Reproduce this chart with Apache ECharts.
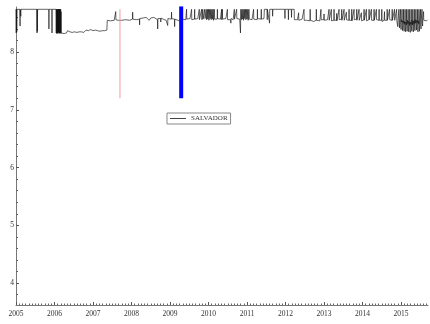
<!DOCTYPE html>
<html>
<head>
<meta charset="utf-8">
<script src="https://cdn.jsdelivr.net/npm/echarts@6/dist/echarts.min.js"></script>
<style>
html,body{margin:0;padding:0;background:#fff;}
#chart{width:430px;height:324px;}
</style>
</head>
<body>
<div id="chart"></div>
<script>
// ---- data (decimal year, level) ----
var seg2005 = [[2005.00,8.74],[2005.005,8.33],[2005.01,8.74],[2005.02,8.35],[2005.03,8.74],[2005.10,8.74],[2005.105,8.45],[2005.11,8.74],[2005.125,8.62],[2005.13,8.74],[2005.54,8.74],[2005.545,8.33],[2005.55,8.74],[2005.555,8.36],[2005.56,8.74],[2005.85,8.74],[2005.855,8.40],[2005.86,8.74],[2005.93,8.74],[2005.935,8.33],[2005.94,8.74],[2006.04,8.74],[2006.045,8.33],[2006.05,8.74],[2006.055,8.32],[2006.06,8.74],[2006.065,8.34],[2006.07,8.74],[2006.075,8.33],[2006.08,8.74],[2006.085,8.32],[2006.09,8.74],[2006.095,8.35],[2006.10,8.74],[2006.105,8.33],[2006.11,8.74],[2006.115,8.34],[2006.12,8.74],[2006.125,8.32],[2006.13,8.74],[2006.135,8.33],[2006.14,8.74],[2006.145,8.36],[2006.15,8.74],[2006.155,8.33],[2006.16,8.74],[2006.165,8.32],[2006.17,8.70],[2006.175,8.33],[2006.18,8.34]];
var seg2006 = [[2006.19,8.33],[2006.22,8.35],[2006.25,8.32],[2006.28,8.34],[2006.31,8.33],[2006.34,8.37],[2006.37,8.34],[2006.40,8.35],[2006.43,8.38],[2006.46,8.34],[2006.49,8.36],[2006.52,8.35],[2006.55,8.37],[2006.58,8.34],[2006.61,8.36],[2006.64,8.35],[2006.67,8.38],[2006.70,8.35],[2006.73,8.37],[2006.76,8.34],[2006.79,8.36],[2006.82,8.38],[2006.85,8.35],[2006.88,8.37],[2006.91,8.36],[2006.94,8.39],[2006.97,8.36],[2007.00,8.37],[2007.03,8.35],[2007.06,8.38],[2007.09,8.36],[2007.12,8.37],[2007.15,8.39],[2007.18,8.36],[2007.21,8.38],[2007.24,8.37],[2007.27,8.39],[2007.30,8.37],[2007.33,8.38],[2007.36,8.38]];
var seg2007 = [[2007.37,8.55],[2007.40,8.56],[2007.45,8.54],[2007.50,8.56],[2007.55,8.55],[2007.585,8.56],[2007.59,8.70],[2007.595,8.56],[2007.65,8.55],[2007.70,8.57],[2007.75,8.55],[2007.80,8.57],[2007.85,8.56],[2007.90,8.58],[2007.95,8.55],[2008.00,8.57],[2008.025,8.57],[2008.03,8.69],[2008.035,8.57],[2008.08,8.58],[2008.12,8.56],[2008.16,8.59],[2008.205,8.57],[2008.21,8.47],[2008.215,8.58],[2008.26,8.56],[2008.30,8.59],[2008.34,8.57],[2008.38,8.60],[2008.42,8.58],[2008.46,8.55],[2008.50,8.59],[2008.54,8.57],[2008.58,8.60],[2008.62,8.58],[2008.675,8.56],[2008.68,8.40],[2008.685,8.58],[2008.72,8.60],[2008.755,8.58],[2008.76,8.52],[2008.765,8.59],[2008.82,8.57],[2008.86,8.60],[2008.90,8.55],[2008.935,8.57],[2008.94,8.46],[2008.945,8.58],[2008.98,8.60],[2009.035,8.57],[2009.04,8.69],[2009.045,8.58],[2009.08,8.56],[2009.115,8.57],[2009.12,8.44],[2009.125,8.57],[2009.17,8.59],[2009.21,8.55],[2009.25,8.58],[2009.29,8.52],[2009.33,8.57]];
var seg2009 = [[2009.37,8.58],[2009.41,8.56],[2009.425,8.57],[2009.43,8.74],[2009.435,8.57],[2009.48,8.55],[2009.52,8.58],[2009.555,8.57],[2009.56,8.74],[2009.565,8.56],[2009.60,8.58],[2009.635,8.57],[2009.64,8.74],[2009.645,8.57],[2009.68,8.55],[2009.72,8.58],[2009.755,8.57],[2009.76,8.74],[2009.765,8.56],[2009.80,8.58],[2009.82,8.74],[2009.83,8.56],[2009.85,8.74],[2009.86,8.57],[2009.88,8.55],[2009.90,8.74],[2009.91,8.58],[2009.94,8.74],[2009.95,8.56],[2009.97,8.74],[2009.98,8.57],[2010.00,8.74],[2010.01,8.55],[2010.03,8.74],[2010.04,8.58],[2010.06,8.74],[2010.07,8.56],[2010.09,8.74],[2010.10,8.57],[2010.12,8.74],[2010.13,8.55],[2010.15,8.74],[2010.16,8.57],[2010.20,8.56],[2010.225,8.57],[2010.23,8.74],[2010.235,8.58],[2010.28,8.55],[2010.31,8.57],[2010.335,8.56],[2010.34,8.74],[2010.345,8.56],[2010.355,8.57],[2010.36,8.74],[2010.365,8.57],[2010.41,8.55],[2010.45,8.58],[2010.485,8.57],[2010.49,8.74],[2010.495,8.56],[2010.54,8.57],[2010.575,8.56],[2010.58,8.50],[2010.585,8.58],[2010.64,8.56],[2010.665,8.57],[2010.67,8.74],[2010.675,8.57],[2010.71,8.55],[2010.725,8.56],[2010.73,8.74],[2010.735,8.58],[2010.78,8.56],[2010.81,8.57],[2010.825,8.56],[2010.83,8.33],[2010.835,8.57],[2010.84,8.74],[2010.85,8.56],[2010.87,8.74],[2010.88,8.57],[2010.90,8.74],[2010.91,8.55],[2010.93,8.74],[2010.94,8.58],[2010.96,8.74],[2010.97,8.56],[2010.99,8.74],[2011.00,8.57],[2011.02,8.74],[2011.03,8.55],[2011.05,8.74],[2011.06,8.57],[2011.10,8.58],[2011.13,8.56],[2011.165,8.57],[2011.17,8.74],[2011.175,8.57],[2011.22,8.55],[2011.265,8.56],[2011.27,8.74],[2011.275,8.58],[2011.32,8.56],[2011.365,8.57],[2011.37,8.74],[2011.375,8.57],[2011.41,8.55],[2011.44,8.58]];
var seg2011 = [[2011.45,8.74],[2011.52,8.74],[2011.525,8.56],[2011.53,8.74],[2011.58,8.74],[2011.585,8.50],[2011.59,8.74],[2011.66,8.74],[2011.665,8.62],[2011.67,8.74],[2011.98,8.74],[2011.985,8.58],[2011.99,8.74],[2012.07,8.74],[2012.075,8.56],[2012.08,8.74],[2012.15,8.74],[2012.155,8.60],[2012.16,8.74],[2012.225,8.74],[2012.23,8.56]];
var seg2012 = [[2012.27,8.54],[2012.31,8.56],[2012.335,8.55],[2012.34,8.68],[2012.345,8.55],[2012.39,8.55],[2012.43,8.57],[2012.475,8.54],[2012.48,8.74],[2012.485,8.55],[2012.51,8.56],[2012.55,8.55],[2012.59,8.57],[2012.635,8.54],[2012.64,8.74],[2012.645,8.55],[2012.69,8.56],[2012.73,8.53],[2012.77,8.56],[2012.795,8.55],[2012.80,8.74],[2012.805,8.55],[2012.85,8.57],[2012.89,8.54],[2012.915,8.55],[2012.92,8.74],[2012.925,8.56],[2012.96,8.55],[2012.995,8.56],[2013.00,8.66],[2013.005,8.55],[2013.05,8.54],[2013.09,8.56],[2013.125,8.56],[2013.13,8.74],[2013.135,8.55],[2013.16,8.57],[2013.185,8.55],[2013.19,8.74],[2013.195,8.54],[2013.23,8.56],[2013.255,8.55],[2013.26,8.74],[2013.265,8.55],[2013.30,8.57],[2013.325,8.55],[2013.33,8.67],[2013.335,8.54],[2013.36,8.55],[2013.385,8.56],[2013.39,8.74],[2013.395,8.56],[2013.42,8.55],[2013.455,8.57],[2013.46,8.74],[2013.465,8.55],[2013.49,8.57],[2013.515,8.55],[2013.52,8.74],[2013.525,8.55],[2013.55,8.54],[2013.575,8.55],[2013.58,8.69],[2013.585,8.56],[2013.62,8.56],[2013.645,8.55],[2013.65,8.74],[2013.655,8.55],[2013.69,8.57],[2013.715,8.55],[2013.72,8.74],[2013.725,8.54],[2013.75,8.55],[2013.775,8.56],[2013.78,8.74],[2013.785,8.56],[2013.81,8.55],[2013.845,8.57],[2013.85,8.74],[2013.855,8.55],[2013.88,8.57],[2013.905,8.55],[2013.91,8.74],[2013.915,8.55],[2013.94,8.54],[2013.965,8.55],[2013.97,8.68],[2013.975,8.54],[2014.00,8.56],[2014.035,8.56],[2014.04,8.74],[2014.045,8.55],[2014.07,8.57],[2014.095,8.55],[2014.10,8.74],[2014.105,8.54],[2014.13,8.54],[2014.165,8.56],[2014.17,8.74],[2014.175,8.56],[2014.20,8.55],[2014.225,8.56],[2014.23,8.74],[2014.235,8.55],[2014.26,8.57],[2014.295,8.55],[2014.30,8.74],[2014.305,8.55],[2014.33,8.54],[2014.355,8.55],[2014.36,8.74],[2014.365,8.56],[2014.39,8.56],[2014.425,8.55],[2014.43,8.74],[2014.435,8.55],[2014.46,8.57],[2014.495,8.55],[2014.50,8.74],[2014.505,8.53],[2014.53,8.50],[2014.56,8.55],[2014.565,8.56],[2014.57,8.70],[2014.575,8.55],[2014.60,8.56],[2014.635,8.55],[2014.64,8.74],[2014.645,8.55],[2014.67,8.54],[2014.695,8.55],[2014.70,8.74],[2014.705,8.56],[2014.73,8.56],[2014.765,8.55],[2014.77,8.74],[2014.775,8.55],[2014.80,8.53],[2014.825,8.54],[2014.83,8.74],[2014.835,8.55],[2014.86,8.55]];
var seg2015 = [[2014.88,8.55],[2014.885,8.74],[2014.89,8.54],[2014.91,8.52],[2014.915,8.44],[2014.92,8.55],[2014.94,8.53],[2014.945,8.74],[2014.95,8.50],[2014.96,8.42],[2014.965,8.55],[2014.98,8.54],[2014.985,8.74],[2014.99,8.48],[2015.00,8.39],[2015.005,8.56],[2015.02,8.52],[2015.025,8.74],[2015.03,8.46],[2015.04,8.37],[2015.045,8.54],[2015.06,8.50],[2015.065,8.74],[2015.07,8.45],[2015.08,8.36],[2015.085,8.53],[2015.10,8.48],[2015.105,8.74],[2015.11,8.44],[2015.12,8.35],[2015.125,8.52],[2015.14,8.47],[2015.145,8.74],[2015.15,8.42],[2015.16,8.36],[2015.165,8.55],[2015.18,8.49],[2015.185,8.74],[2015.19,8.43],[2015.20,8.35],[2015.205,8.53],[2015.22,8.46],[2015.225,8.74],[2015.23,8.41],[2015.24,8.34],[2015.245,8.52],[2015.26,8.48],[2015.265,8.74],[2015.27,8.44],[2015.28,8.36],[2015.285,8.55],[2015.30,8.47],[2015.305,8.74],[2015.31,8.42],[2015.32,8.35],[2015.325,8.54],[2015.34,8.49],[2015.345,8.74],[2015.35,8.45],[2015.36,8.37],[2015.365,8.56],[2015.38,8.50],[2015.385,8.74],[2015.39,8.46],[2015.40,8.38],[2015.405,8.55],[2015.42,8.51],[2015.425,8.74],[2015.43,8.44],[2015.44,8.35],[2015.445,8.54],[2015.46,8.49],[2015.465,8.74],[2015.47,8.43],[2015.48,8.36],[2015.485,8.55],[2015.50,8.52],[2015.505,8.74],[2015.51,8.47],[2015.52,8.40],[2015.525,8.56],[2015.54,8.53],[2015.545,8.74],[2015.55,8.50],[2015.56,8.45],[2015.565,8.57],[2015.58,8.54],[2015.585,8.70],[2015.59,8.55],[2015.61,8.52],[2015.63,8.56],[2015.66,8.54],[2015.69,8.56]];
var redMarker = [[2007.70,7.20],[2007.70,8.74]];
var blueMarker = [[2009.29,7.20],[2009.29,8.79]];
var yearTicks = [2005,2006,2007,2008,2009,2010,2011,2012,2013,2014,2015];
var levelTicks = [4,5,6,7,8];
var seriesName = 'SALVADOR';

var salvador = [].concat(seg2005, seg2006, seg2007, seg2009, seg2011, seg2012, seg2015);

// minor tick positions (axis decoration only)
var monthTicks = [];
for (var y = 2005; y < 2015.7; y += 1) {
  for (var m = 1; m < 12; m++) {
    var t = +(y + m / 12).toFixed(4);
    if (t < 2015.7) monthTicks.push(t);
  }
}
var levelMinor = [];
for (var k = 19; k <= 43; k++) {
  var v = +(k * 0.2).toFixed(2);
  if (Math.abs(v - Math.round(v)) > 1e-6) levelMinor.push(v);
}

var FONT = 'Liberation Serif';
var chart = echarts.init(document.getElementById('chart'), null, {renderer: 'canvas'});
chart.setOption({
  animation: false,
  backgroundColor: '#fff',
  grid: {left: 16, right: 2, top: 7, bottom: 19, containLabel: false},
  legend: {
    data: [{name: seriesName, icon: 'rect'}],
    left: 167, top: 113,
    orient: 'horizontal',
    padding: [2, 3, 2, 3],
    itemWidth: 16, itemHeight: 1, itemGap: 4,
    itemStyle: {color: '#444', borderWidth: 0},
    borderColor: '#888', borderWidth: 1, borderRadius: 0,
    textStyle: {fontFamily: FONT, fontSize: 7, color: '#333', lineHeight: 7},
    selectedMode: false
  },
  xAxis: [{
    type: 'value', min: 2005, max: 2015.7,
    axisLine: {show: true, lineStyle: {color: '#777', width: 1}},
    axisTick: {show: true, inside: true, length: 3, customValues: yearTicks, lineStyle: {color: '#555'}},
    axisLabel: {show: true, customValues: yearTicks, margin: 5, fontFamily: FONT, fontSize: 7.5, color: '#333',
      formatter: function (v) { return String(Math.round(v)); }},
    splitLine: {show: false}
  }, {
    type: 'value', min: 2005, max: 2015.7, position: 'bottom',
    axisLine: {show: false},
    axisTick: {show: true, inside: true, length: 1.5, customValues: monthTicks, lineStyle: {color: '#666'}},
    axisLabel: {show: false},
    splitLine: {show: false}
  }],
  yAxis: [{
    type: 'value', min: 3.62, max: 8.78,
    axisLine: {show: true, lineStyle: {color: '#777', width: 1}},
    axisTick: {show: true, inside: true, length: 3, customValues: levelTicks, lineStyle: {color: '#555'}},
    axisLabel: {show: true, customValues: levelTicks, margin: 2, fontFamily: FONT, fontSize: 7.5, color: '#333'},
    splitLine: {show: false}
  }, {
    type: 'value', min: 3.62, max: 8.78, position: 'left',
    axisLine: {show: false},
    axisTick: {show: true, inside: true, length: 2, customValues: levelMinor, lineStyle: {color: '#666'}},
    axisLabel: {show: false},
    splitLine: {show: false}
  }],
  series: [{
    name: seriesName, type: 'line', data: salvador,
    xAxisIndex: 0, yAxisIndex: 0,
    symbol: 'none', showSymbol: false,
    lineStyle: {color: '#111', width: 0.65},
    itemStyle: {color: '#111'}
  }, {
    name: 'red', type: 'line', data: redMarker, symbol: 'none',
    lineStyle: {color: '#f59a9a', width: 1}, itemStyle: {color: '#f59a9a'}
  }, {
    name: 'blue', type: 'line', data: blueMarker, symbol: 'none',
    lineStyle: {color: '#0000ff', width: 4}, itemStyle: {color: '#0000ff'}
  }]
});
</script>
</body>
</html>
